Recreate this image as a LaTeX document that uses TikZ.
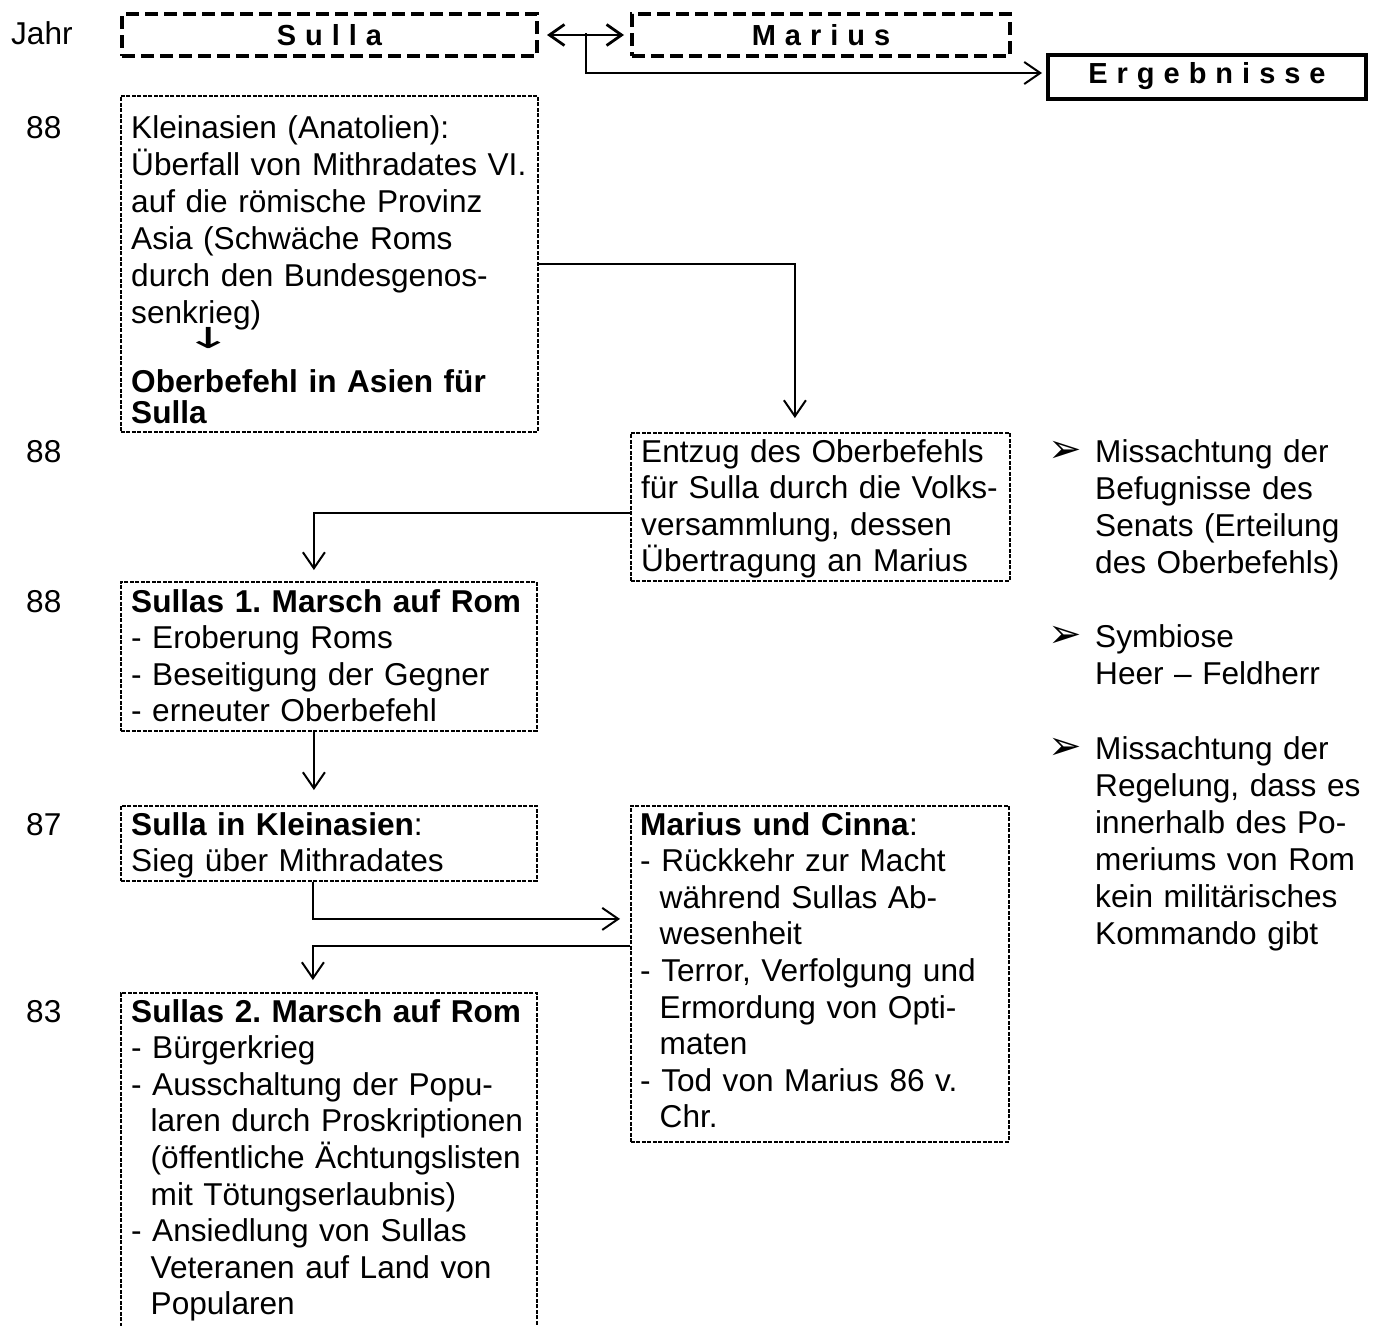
\documentclass[tikz,border=0pt]{standalone}
\usepackage{fontspec}
\setmainfont{Liberation Sans}
\newfontfamily\hdrfont[LetterSpace=31]{Liberation Sans}
\newfontfamily\bulfont{DejaVu Sans}
\usetikzlibrary{arrows.meta}
\frenchspacing
\setlength{\lineskiplimit}{-100pt}
\newcommand\myind{\hspace*{19.5pt}}
\newcommand\bulind{\hspace*{47pt}}
\newcommand\mybul{\makebox[47pt][l]{\bulfont\fontsize{40pt}{40pt}\selectfont ➢}}
\newcommand\downarr{\scalebox{1.7}[0.85]{\bulfont\fontsize{34pt}{34pt}\selectfont ↓}}
\begin{document}
\begin{tikzpicture}[x=1pt,y=-1pt,
  hdrbox/.style={draw, line width=4pt, dash pattern=on 13pt off 6pt, inner sep=0pt,
    text height=21.5pt, text depth=0pt, font=\hdrfont\bfseries\fontsize{29pt}{34pt}\selectfont},
  ergbox/.style={draw, line width=4pt, inner sep=0pt,
    text height=21pt, text depth=8pt, font=\hdrfont\bfseries\fontsize{29pt}{34pt}\selectfont},
  evbox/.style={draw, line width=1.8pt, dash pattern=on 4pt off 1.5pt, inner sep=0pt, anchor=north west},
  txt/.style={inner sep=0pt, anchor=base west, align=left, text width=#1,
    font=\fontsize{31.6pt}{36.6pt}\selectfont},
  txt/.default=420pt,
  rtxt/.style={inner sep=0pt, anchor=base west, align=left, text width=340pt,
    font=\fontsize{31.6pt}{37pt}\selectfont},
  yr/.style={inner sep=0pt, anchor=base west, font=\fontsize{31.6pt}{36.6pt}\selectfont},
  conn/.style={line width=2pt, -{Straight Barb[length=16pt,width=22pt]}}
]
\useasboundingbox (0,0) rectangle (1389,1325);

% header
\node[yr] (jahr) at (11,44) {Jahr};
\node[hdrbox, minimum width=415pt, minimum height=42pt, anchor=north west] (sulla) at (120,12) {Sulla};
\node[hdrbox, minimum width=378pt, minimum height=42pt, anchor=north west] (marius) at (630,12) {Marius};
\node[ergbox, minimum width=318pt, minimum height=44pt, anchor=north west] (erg) at (1046,53) {Ergebnisse};
\draw[line width=2.8pt, {Straight Barb[length=15pt,width=21pt]}-{Straight Barb[length=15pt,width=21pt]},
  shorten <=8pt, shorten >=6pt] (sulla.east) -- (marius.west);
\coordinate (hm) at (586,33);
\draw[conn, shorten >=4pt] (hm) |- ([yshift=4pt]erg.west);

% years
\node[yr] (y1) at (26,138) {88};
\node[yr] (y2) at (26,462) {88};
\node[yr] (y3) at (26,612) {88};
\node[yr] (y4) at (26,835) {87};
\node[yr] (y5) at (26,1022) {83};

% boxes
\node[evbox, minimum width=417pt, minimum height=336pt] (b1) at (120,95) {};
\node[evbox, minimum width=379pt, minimum height=148pt] (ent) at (630,432) {};
\node[evbox, minimum width=416pt, minimum height=149pt] (b2) at (120,581) {};
\node[evbox, minimum width=416pt, minimum height=75pt] (b3) at (120,805) {};
\node[evbox, minimum width=378pt, minimum height=336pt] (mc) at (630,805) {};
\node[evbox, minimum width=416pt, minimum height=345pt] (b4) at (120,992) {};

% texts
\node[txt] (t1) at (131,138) {Kleinasien (Anatolien):\\[0.4pt]
Überfall von Mithradates VI.\\[0.4pt]
auf die römische Provinz\\[0.4pt]
Asia (Schwäche Roms\\[0.4pt]
durch den Bundesgenos-\\[0.4pt]
senkrieg)\\[-11.6pt]
\hspace*{53pt}\downarr\\[7.4pt]
\textbf{Oberbefehl in Asien für}\\[-5.6pt]
\textbf{Sulla}};

\node[txt] (t2) at (641,462) {Entzug des Oberbefehls\\
für Sulla durch die Volks-\\
versammlung, dessen\\
Übertragung an Marius};

\node[txt] (t3) at (131,612) {\textbf{Sullas 1. Marsch auf Rom}\\
- Eroberung Roms\\
- Beseitigung der Gegner\\
- erneuter Oberbefehl};

\node[txt] (t4) at (131,835) {\textbf{Sulla in Kleinasien}:\\
Sieg über Mithradates};

\node[txt] (t5) at (640,835) {\textbf{Marius und Cinna}:\\
- Rückkehr zur Macht\\
\myind während Sullas Ab-\\
\myind wesenheit\\
- Terror, Verfolgung und\\
\myind Ermordung von Opti-\\
\myind maten\\
- Tod von Marius 86 v.\\
\myind Chr.};

\node[txt] (t6) at (131,1022) {\textbf{Sullas 2. Marsch auf Rom}\\
- Bürgerkrieg\\
- Ausschaltung der Popu-\\
\myind laren durch Proskriptionen\\
\myind (öffentliche Ächtungslisten\\
\myind mit Tötungserlaubnis)\\
- Ansiedlung von Sullas\\
\myind Veteranen auf Land von\\
\myind Popularen};

% results
\node[rtxt] (r1) at (1048,462) {\mybul Missachtung der\\
\bulind Befugnisse des\\
\bulind Senats (Erteilung\\
\bulind des Oberbefehls)};
\node[rtxt] (r2) at (1048,647) {\mybul Symbiose\\
\bulind Heer – Feldherr};
\node[rtxt] (r3) at (1048,759) {\mybul Missachtung der\\
\bulind Regelung, dass es\\
\bulind innerhalb des Po-\\
\bulind meriums von Rom\\
\bulind kein militärisches\\
\bulind Kommando gibt};

% connectors
\draw[conn, shorten >=14pt] (b1.east) -| ([xshift=-25.5pt]ent.north);
\draw[conn, shorten >=11pt] ([yshift=-6pt]ent.west) -| ([xshift=-15pt]b2.north);
\draw[conn, shorten >=15pt] ([xshift=-15pt]b2.south) -- ([xshift=-15pt]b3.north);
\draw[conn, shorten >=10pt] ([xshift=-16pt]b3.south) |- ([yshift=55pt]mc.west);
\draw[conn, shorten >=12pt] ([yshift=28pt]mc.west) -| ([xshift=-16pt]b4.north);
\end{tikzpicture}
\end{document}
